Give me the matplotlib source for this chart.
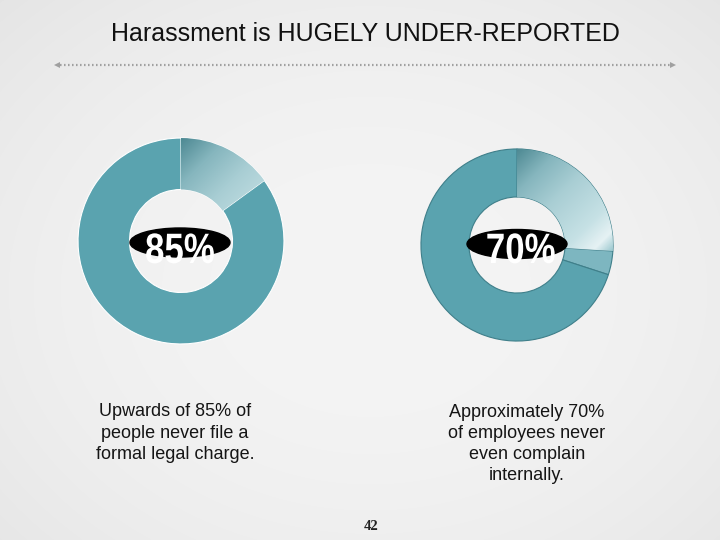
import numpy as np
import matplotlib
matplotlib.use("Agg")
import matplotlib.pyplot as plt
import matplotlib.transforms as mtransforms
from matplotlib.patches import Ellipse, PathPatch
from matplotlib.textpath import TextPath
from matplotlib.font_manager import FontProperties
from matplotlib.colors import LinearSegmentedColormap

# Datos de la lamina
titulo = "Harassment is HUGELY UNDER-REPORTED"
valores_izq = [15, 85]
valores_der = [26, 4, 70]
etiquetas = ["85%", "70%"]
textos = ["Upwards of 85% of\npeople never file a\nformal legal charge.",
          "Approximately 70%\nof employees never\neven complain\ninternally."]
pagina = "42"

W, H = 720, 540
TEAL = "#5aa3af"
fig = plt.figure(figsize=(7.2, 5.4), dpi=100)

# Fondo gris con degradado radial suave
ax_bg = fig.add_axes([0, 0, 1, 1], zorder=0)
yy, xx = np.mgrid[0:H, 0:W]
r = np.sqrt(((xx - 370) / 560.0) ** 2 + ((yy - 290) / 440.0) ** 2)
fondo = np.clip(0.955 - 0.07 * r ** 2, 0, 1)
ax_bg.imshow(fondo, cmap="gray", vmin=0, vmax=1, extent=(0, W, H, 0), aspect="auto")
ax_bg.set_xlim(0, W)
ax_bg.set_ylim(H, 0)
ax_bg.axis("off")

# Titulo y linea punteada
ax_bg.text(365, 34, titulo, ha="center", va="center", fontsize=18,
           family="Liberation Sans", color="#111111")
ax_bg.plot([60, 670], [65, 65], color="#a0a0a0", lw=1.6,
           ls=(0, (0.7, 1.1)), solid_capstyle="butt")
ax_bg.plot([57], [65], marker="<", ms=5, color="#a0a0a0", mew=0)
ax_bg.plot([673], [65], marker=">", ms=5, color="#a0a0a0", mew=0)

cmap_claro = LinearSegmentedColormap.from_list(
    "claro", [(0.0, "#4d8993"), (0.22, "#86b6be"), (0.45, "#a9ced4"),
              (0.75, "#c6e1e5"), (0.9, "#e6f2f4"), (1.0, "#9dc9d0")])


def dibujar_dona(cx, cy, radio, valores, colores, borde):
    ax = fig.add_axes([(cx - radio) / W, (H - cy - radio) / H,
                       2 * radio / W, 2 * radio / H], zorder=1)
    cunas, _ = ax.pie(valores, colors=colores, startangle=90, counterclock=False,
                      radius=1, wedgeprops=dict(width=0.5, edgecolor=borde, linewidth=0.8))
    # degradado dentro de la primera cuna
    gy, gx = np.mgrid[1:-1:300j, -1:1:300j]
    g = gx - gy
    im = ax.imshow(g, cmap=cmap_claro, vmin=-1.0, vmax=1.05, extent=(-1, 1, -1, 1),
                   origin="upper", zorder=cunas[0].get_zorder() + 0.1)
    im.set_clip_path(cunas[0])
    ax.set_xlim(-1.01, 1.01)
    ax.set_ylim(-1.01, 1.01)
    ax.axis("off")
    return ax


dibujar_dona(181, 241, 104, valores_izq, ["#b0d3d9", TEAL], "white")
dibujar_dona(517, 245, 97, valores_der, ["#b0d3d9", "#7db6c0", TEAL], "#3f7f8a")

# Capa superior: elipses y textos
ax_top = fig.add_axes([0, 0, 1, 1], zorder=2)
ax_top.set_xlim(0, W)
ax_top.set_ylim(H, 0)
ax_top.axis("off")

fp = FontProperties(family="Liberation Sans", weight="bold")
for (ex, ey, tx), etiqueta in zip([(180, 242.5, 180), (517, 244, 521)], etiquetas):
    ax_top.add_patch(Ellipse((ex, ey), 100, 29, color="black"))
    # texto estrecho: se comprime en horizontal
    tp = TextPath((0, 0), etiqueta, size=42.5, prop=fp)
    bb = tp.get_extents()
    tr = (mtransforms.Affine2D().translate(-(bb.x0 + bb.x1) / 2, 0)
          .scale(0.82, -1).translate(tx, 263))
    ax_top.add_patch(PathPatch(tr.transform_path(tp), facecolor="white", lw=0))

ax_top.text(175, 433, textos[0], ha="center", va="center", fontsize=13,
            family="Liberation Sans", color="#151515", linespacing=1.32)
ax_top.text(527, 444, textos[1], ha="center", va="center", fontsize=13,
            family="Liberation Sans", color="#151515", linespacing=1.32)
ax_top.text(371, 527, pagina, ha="center", va="center", fontsize=10.5,
            family="Liberation Serif", fontweight="bold", color="#222222")

fig.savefig("out.png", dpi=100)
